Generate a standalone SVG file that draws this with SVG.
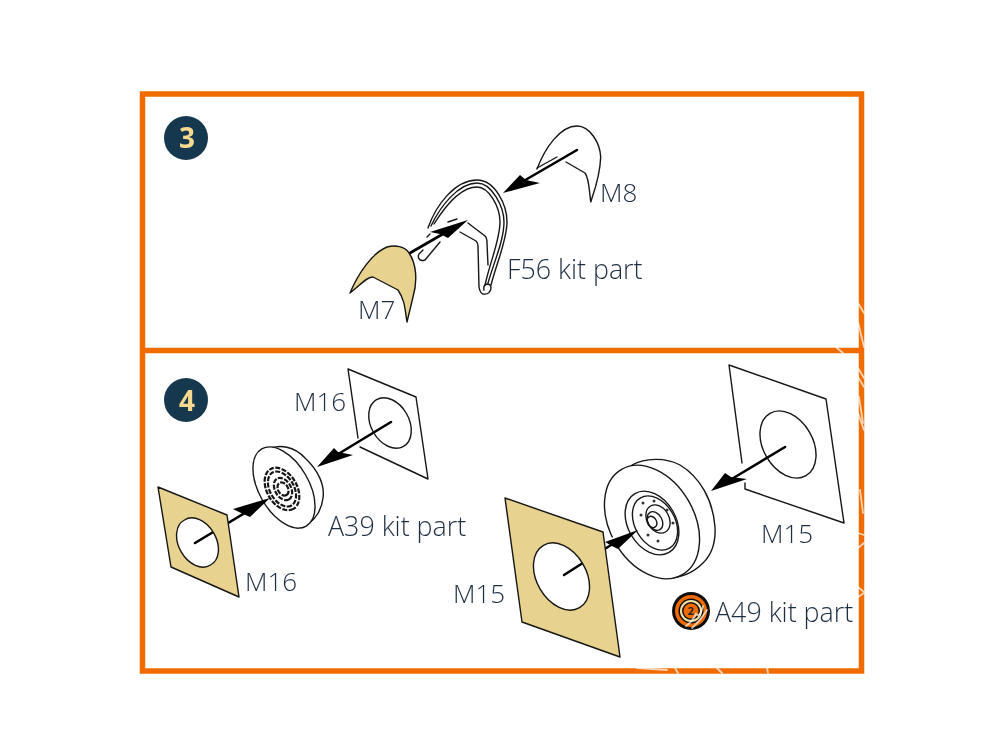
<svg xmlns="http://www.w3.org/2000/svg" width="1000" height="750" viewBox="0 0 1000 750">
<defs><filter id="soft" filterUnits="userSpaceOnUse" x="0" y="0" width="1000" height="750"><feGaussianBlur stdDeviation="0.45"/></filter></defs>
<style>
.t{font-family:"Open Sans","Liberation Sans",sans-serif;font-size:26px;fill:#1f2f42;font-weight:300}
.k{font-size:26.8px}
.n{font-family:"Open Sans","Liberation Sans",sans-serif;font-size:28px;font-weight:700;fill:#f6d98e;text-anchor:middle}
.l{fill:none;stroke:#151515;stroke-width:1.4;stroke-linecap:round;stroke-linejoin:round}
.d{fill:none;stroke:#151515;stroke-width:2.2;stroke-dasharray:5 1.500}
.p{fill:#fff;stroke:#151515;stroke-width:1.4;stroke-linejoin:round}
.b{fill:#e8d28f;stroke:#151515;stroke-width:1.4;stroke-linejoin:round;fill-rule:evenodd}
.a{fill:none;stroke:#000;stroke-width:2.6;stroke-linecap:round}
.g{fill:none;stroke:#fff;stroke-width:9}
.h{fill:#000}
.f{fill:none;stroke:#f06c00;stroke-width:5.5}
.w{fill:none;stroke:#fff;stroke-width:1.800;stroke-opacity:.7;stroke-linecap:round}
</style>
<rect width="1000" height="750" fill="#fff"/>
<g filter="url(#soft)">
<g id="frame"><rect class="f" x="142.500" y="94" width="719" height="577"/><line class="f" x1="142" y1="350.500" x2="862" y2="350.500"/></g>
<g id="badge-3"><circle cx="186" cy="138" r="22" fill="#17394f"/><text class="n" x="187" y="148">3</text></g>
<g id="badge-4"><circle cx="186" cy="400" r="22" fill="#17394f"/><text class="n" x="187" y="411">4</text></g>

<g id="M8"><path class="l" d="M590.700 201.700C594 192 600 177 600.700 157C600 143 590 126 577 126C560 126 545 148 537 169"/><path class="l" d="M566 162L585 173C589 178 589 188 590.700 201.700"/><path class="l" d="M537 168L557 157"/><text class="t" x="600" y="202">M8</text></g>
<g id="F56">
<path class="l" d="M428 228C436 205 455 180 477 180C495 180 507 205 507 222C507 240 497 262 491 285"/>
<path class="l" d="M431 226C440 207 458 183 477 183C492 183 504 207 504 222C504 240 494 262 488 283"/>
<path class="l" d="M434 224C444 208 460 187 477 187C489 187 500 207 500 222C500 240 490 262 485 285"/>
<path class="l" d="M468 223L485 236Q487 238 487 243L488 265"/>
<path class="l" d="M460 232L476 241Q478 243 478 246L479 287Q480 293 483 294Q490 295 491 288Q491 284 487 284Q483 285 484 290"/>
<path class="l" d="M448 222L457 219"/>
<path class="l" d="M440 242L425 260C420 262 417 258 419 254L423 250"/>
<path class="l" d="M427 237L430 234"/>
<text class="t k" x="507" y="279">F56 kit part</text></g>
<g id="wheel-A39"><path class="p" d="M265 450C280 443 295 447 305 458C318 470 325 485 323 498C321 515 310 526 297 528Z"/><ellipse class="p" cx="284" cy="487.500" rx="44.500" ry="25" transform="rotate(60 284 487.500)"/>
<ellipse class="d" cx="282" cy="489" rx="23" ry="15" transform="rotate(60 282 489)"/><ellipse class="d" cx="282" cy="489" rx="19" ry="12" transform="rotate(60 282 489)"/><ellipse class="d" cx="283" cy="489" rx="12" ry="8" transform="rotate(60 283 489)"/><ellipse class="d" cx="283" cy="489" rx="7" ry="5" transform="rotate(60 283 489)"/></g>
<g id="wheel-A49"><path class="p" d="M632 465C645 458 665 457 680 465C700 477 713 500 715 527C716 545 710 556 703 563C692 574 680 578 667 578Z"/><ellipse class="p" cx="652" cy="522" rx="60.800" ry="42.200" transform="rotate(60 652 522)"/>
<ellipse class="l" cx="652" cy="523" rx="34" ry="24" transform="rotate(60 652 523)"/><ellipse class="l" cx="655" cy="523" rx="29" ry="20" transform="rotate(60 655 523)"/><ellipse class="l" cx="658" cy="519" rx="15" ry="11" transform="rotate(60 658 519)"/><ellipse class="l" cx="655" cy="521" rx="10" ry="7" transform="rotate(60 655 521)"/><ellipse class="l" cx="652" cy="522" rx="6" ry="4.500" transform="rotate(60 652 522)"/>
<g fill="#333"><circle cx="643" cy="503" r="1.500"/><circle cx="654" cy="501" r="1.500"/><circle cx="667" cy="510" r="1.500"/><circle cx="673" cy="523" r="1.500"/><circle cx="658" cy="541" r="1.500"/><circle cx="648" cy="535" r="1.500"/><circle cx="641" cy="515" r="1.500"/></g></g>
<g id="connectors">
<line class="g" x1="600" y1="550" x2="622" y2="537"/><line class="g" x1="247" y1="513" x2="258" y2="506"/>
<line class="a" x1="577" y1="150" x2="515" y2="186"/><path class="h" d="M503 193L520 175L526 180L540 183Z"/>
<line class="a" x1="410" y1="253" x2="455" y2="227"/><path class="h" d="M468 220L430 232L440 234L448 238Z"/>
<line class="a" x1="391" y1="422" x2="330" y2="459"/><path class="h" d="M317 467L334 448L338 452L353 455Z"/>
<line class="a" x1="195" y1="543" x2="258" y2="505"/><path class="h" d="M270 498L233 509L241 513L250 517Z"/>
<line class="a" x1="785" y1="447" x2="725" y2="483"/><path class="h" d="M711 491L725 473L731 477L747 479Z"/>
<line class="a" x1="564" y1="575" x2="622" y2="538"/><path class="h" d="M638 530L605 542L612 546L618 549Z"/>
</g>
<g id="M7"><path class="b" d="M350 293C358 274 372 253 387 247C395 245 405 246 409 253C416 263 418 280 413 297L407 322C405 310 405 300 398 290L373 277C368 276 360 285 350 293Z"/><text class="t" x="358" y="319">M7</text></g>
<g id="M16-upper"><path class="l" d="M358 438L348 369L416 397L428 479L360 447"/><ellipse class="l" cx="390" cy="423" rx="27" ry="19" transform="rotate(60 390 423)"/><text class="t" x="294" y="411">M16</text></g>
<g id="M16-lower"><path class="b" d="M158 487L227 515L239 597L171 567ZM184.500 520a26 18.200 60 1 1 26 45a26 18.200 60 1 1 -26 -45Z"/><text class="t" x="245" y="591">M16</text></g>
<g id="M15-upper"><path class="l" d="M742 463L729 365L826 399L844 523L745 489L745 483"/><ellipse class="l" cx="788" cy="444.500" rx="36" ry="24.800" transform="rotate(60 788 444.500)"/><text class="t" x="761" y="543">M15</text></g>
<g id="M15-lower"><path class="b" d="M505 498L603 532L620 657L522 622ZM543.500 545.300a36 24.800 60 1 1 36 62.400a36 24.800 60 1 1 -36 -62.400Z"/><text class="t" x="453" y="603">M15</text></g>
<g id="A39-label"><text class="t k" x="328" y="536">A39 kit part</text></g>
<g id="A49-label"><circle cx="691" cy="611" r="19" fill="#111"/><circle cx="691" cy="611" r="16" fill="#f06c00"/><circle cx="691" cy="611" r="12.500" fill="#111"/><circle cx="691" cy="611" r="11" fill="#f5e3a5"/><circle cx="691" cy="611" r="9" fill="#111"/><circle cx="691" cy="611" r="7.500" fill="#f06c00"/><text x="691" y="615" font-family="Open Sans,Liberation Sans,sans-serif" font-size="11" font-weight="700" fill="#222" text-anchor="middle">2</text><text class="t k" x="715" y="622">A49 kit part</text></g>
<g id="marks"><path class="w" d="M858 303L864 313M858 322L864 347M858 368L864 378M858 377L864 387M859 397L863 423M858 413L864 430M837 348L843 353M860 490L863 513M858 533L864 535M858 548L864 543M858 587L864 592M858 597L864 593M637 668L667 670M675 668L678 673M717 668L722 673M767 668L768 673M686 626Q692 622 696 614Q700 618 703 606M692 628Q699 622 707 610"/></g>
</g>
</svg>
